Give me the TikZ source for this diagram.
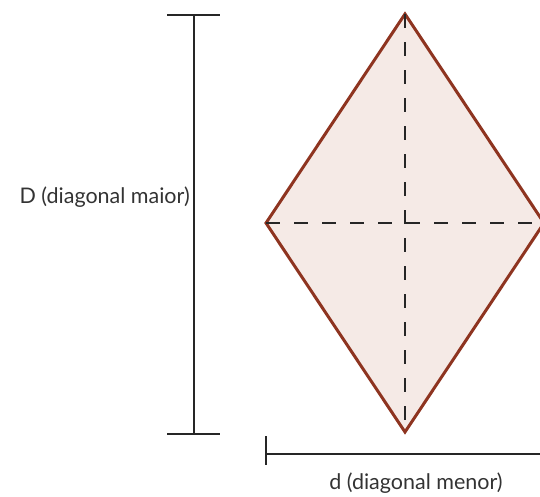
\documentclass[tikz,border=0pt]{standalone}
\usepackage{fontspec}
\setmainfont{Lato}
\definecolor{rhfill}{HTML}{F5EAE6}
\definecolor{rhline}{HTML}{8E3420}
\definecolor{txt}{HTML}{333333}
\begin{document}
\begin{tikzpicture}[x=1pt,y=-1pt,
  rhombus/.style={draw=rhline,fill=rhfill,line width=3pt,line join=miter},
  diag/.style={draw=black!85,line width=2.2pt,dash pattern=on 14pt off 14pt},
  dimline/.style={draw=black!85,line width=2.2pt},
  lbl/.style={text=txt,font=\fontsize{21.5}{24}\selectfont,inner sep=0pt}]
\useasboundingbox (0,0) rectangle (540,496);
\coordinate (T) at (405,14);
\coordinate (L) at (266,223);
\coordinate (B) at (405,432);
\coordinate (R) at (544,223);
\begin{scope}
\clip (0,0) rectangle (540,496);
\draw[rhombus] (T) -- (L) -- (B) -- (R) -- cycle;
\draw[diag] (T) -- (B);
\draw[diag] (L) -- (R);
\end{scope}
% major diagonal dimension
\coordinate (Dt) at (194,15);
\coordinate (Db) at (194,434);
\coordinate (Dtl) at (167,15);
\coordinate (Dtr) at (220,15);
\coordinate (Dbl) at (167,434);
\coordinate (Dbr) at (220,434);
\draw[dimline] (Dt) -- (Db);
\draw[dimline] (Dtl) -- (Dtr);
\draw[dimline] (Dbl) -- (Dbr);
% minor diagonal dimension
\coordinate (dl) at (266,454);
\coordinate (dr) at (540,454);
\coordinate (dlt) at (266,436);
\coordinate (dlb) at (266,465);
\draw[dimline] (dl) -- (dr);
\draw[dimline] (dlt) -- (dlb);
\node[lbl,anchor=east] (Dlabel) at (190,197) {D (diagonal maior)};
\node[lbl] (dlabel) at (416,483) {d (diagonal menor)};
\end{tikzpicture}
\end{document}
